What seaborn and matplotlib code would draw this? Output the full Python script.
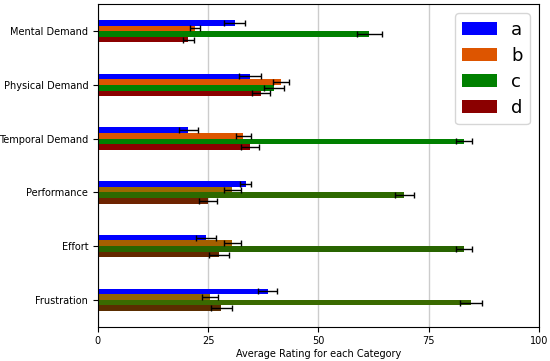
import numpy as np
import pandas as pd
import seaborn as sns
import matplotlib
matplotlib.use("Agg")
import matplotlib.pyplot as plt

categories = ["Mental Demand", "Physical Demand", "Temporal Demand",
              "Performance", "Effort", "Frustration"]
series = ["a", "b", "c", "d"]

a_vals = [31.0, 34.5, 20.5, 33.5, 24.5, 38.5]
b_vals = [22.0, 41.5, 33.0, 30.5, 30.5, 25.5]
c_vals = [61.5, 40.0, 83.0, 69.5, 83.0, 84.5]
d_vals = [20.5, 37.0, 34.5, 25.0, 27.5, 28.0]

a_err = [2.3, 2.4, 2.2, 1.3, 2.2, 2.2]
b_err = [1.2, 1.9, 1.8, 2.0, 2.0, 1.8]
c_err = [2.8, 2.3, 1.8, 2.2, 1.8, 2.5]
d_err = [1.2, 2.0, 2.0, 2.0, 2.3, 2.4]

xticks = [0, 25, 50, 75, 100]
xlabel = "Average Rating for each Category"

vals = {"a": a_vals, "b": b_vals, "c": c_vals, "d": d_vals}
errs = {"a": a_err, "b": b_err, "c": c_err, "d": d_err}
palette = {"a": "#0000ff", "b": "#dd5500", "c": "#008000", "d": "#8b0000"}

# blended shades seen on lower groups (overlay effect in the reference)
blend = {
    ("b", 3): "#9b6900", ("c", 3): "#2d6900", ("d", 3): "#6e2300",
    ("b", 4): "#a55f00", ("c", 4): "#286400", ("d", 4): "#642800",
    ("b", 5): "#916400", ("c", 5): "#3a6a00", ("d", 5): "#5a2d00",
}

df = pd.DataFrame({
    "Category": [c for s in series for c in categories],
    "Series": [s for s in series for _ in categories],
    "Rating": [v for s in series for v in vals[s]],
})

fig = plt.figure(figsize=(5.5, 3.61), dpi=100)
ax = fig.add_axes([0.178, 0.095, 0.802, 0.893])

sns.barplot(data=df, y="Category", x="Rating", hue="Series", order=categories,
            hue_order=series, palette=palette, width=0.42, saturation=1,
            errorbar=None, orient="h", ax=ax)

for s, cont in zip(series, ax.containers):
    xs, ys = [], []
    for i, bar in enumerate(cont):
        if (s, i) in blend:
            bar.set_facecolor(blend[(s, i)])
        xs.append(bar.get_width())
        ys.append(bar.get_y() + bar.get_height() / 2)
    ax.errorbar(xs, ys, xerr=errs[s], fmt="none", ecolor="black",
                elinewidth=1, capsize=2.5, capthick=1)

ax.set_xlim(0, 100)
ax.set_xticks(xticks)
ax.set_ylim(5.5, -0.5)
ax.grid(axis="x", color="#cccccc", linewidth=1)
ax.set_axisbelow(True)
ax.set_xlabel(xlabel, fontsize=7, labelpad=2)
ax.set_ylabel("")
ax.tick_params(axis="both", labelsize=7)

ax.legend(loc="upper right", fontsize=13, labelspacing=0.45,
          borderaxespad=0.5, handlelength=1.9)

fig.savefig("out.png", dpi=100)
